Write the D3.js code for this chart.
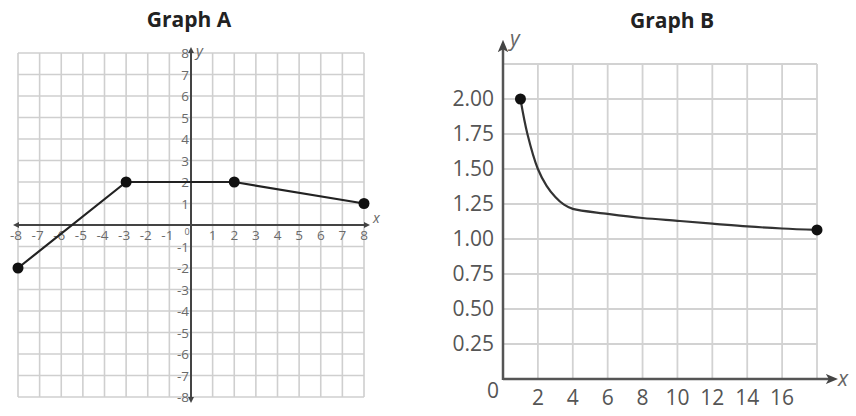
<!DOCTYPE html>
<html>
<head>
<meta charset="utf-8">
<script src="https://cdn.jsdelivr.net/npm/d3@7"></script>
<style>
  body { margin: 0; background: #fff; }
  svg { display: block; }
  .title { font-family: "Open Sans", sans-serif; font-weight: bold; font-size: 21px; fill: #222; }
  .tickA { font-family: "Open Sans", sans-serif; font-size: 13.5px; fill: #6a6a6a; }
  .tickB { font-family: "Open Sans", sans-serif; font-size: 21px; fill: #555; }
  .axlab { font-family: "Open Sans", sans-serif; font-style: italic; fill: #666; }
</style>
</head>
<body>
<div id="chart"></div>
<script>
// Graph A data
const pointsA = [[-8, -2], [-3, 2], [2, 2], [8, 1]];
const ticksAx = [-8, -7, -6, -5, -4, -3, -2, -1, 1, 2, 3, 4, 5, 6, 7, 8];
const ticksAy = [-8, -7, -6, -5, -4, -3, -2, -1, 1, 2, 3, 4, 5, 6, 7, 8];
const gridA = d3.range(-8, 9);

// Graph B data
const curveBx = [1, 1.4, 2, 2.5, 3, 3.5, 4, 6, 8, 10, 12, 14, 16, 18];
const curveBy = [2.0, 1.75, 1.5, 1.38, 1.3, 1.245, 1.215, 1.18, 1.15, 1.13, 1.11, 1.09, 1.075, 1.065];
const endsB = [[1, 2.0], [18, 1.065]];
const ticksBx = [2, 4, 6, 8, 10, 12, 14, 16];
const ticksBy = [0.25, 0.5, 0.75, 1.0, 1.25, 1.5, 1.75, 2.0];
const gridBx = d3.range(0, 19, 2);
const gridBy = [0, 0.25, 0.5, 0.75, 1.0, 1.25, 1.5, 1.75, 2.0, 2.25];

const svg = d3.select("#chart").append("svg")
  .attr("width", 856)
  .attr("height", 416);

const defs = svg.append("defs");
defs.append("marker")
  .attr("id", "arrA")
  .attr("viewBox", "0 0 10 10")
  .attr("refX", 5).attr("refY", 5)
  .attr("markerWidth", 3).attr("markerHeight", 3)
  .attr("markerUnits", "strokeWidth")
  .attr("orient", "auto-start-reverse")
  .append("path").attr("d", "M0,0 L10,5 L0,10 Z").attr("fill", "#444");
defs.append("marker")
  .attr("id", "arrB")
  .attr("viewBox", "0 0 12 10")
  .attr("refX", 6).attr("refY", 5)
  .attr("markerWidth", 5).attr("markerHeight", 4.5)
  .attr("markerUnits", "strokeWidth")
  .attr("orient", "auto")
  .append("path").attr("d", "M0,0 L12,5 L0,10 L3,5 Z").attr("fill", "#444");

// ---------- Graph A ----------
const xA = d3.scaleLinear().domain([-8, 8]).range([18, 364]);
const yA = d3.scaleLinear().domain([-8, 8]).range([397, 53]);
const gA = svg.append("g");

gA.append("text").attr("class", "title")
  .attr("x", 189).attr("y", 27)
  .attr("text-anchor", "middle")
  .text("Graph A");

gA.selectAll(".gvx").data(gridA).enter().append("line")
  .attr("x1", d => xA(d)).attr("x2", d => xA(d))
  .attr("y1", yA(8)).attr("y2", yA(-8))
  .attr("stroke", "#cfcfcf").attr("stroke-width", 1.6);
gA.selectAll(".gvy").data(gridA).enter().append("line")
  .attr("y1", d => yA(d)).attr("y2", d => yA(d))
  .attr("x1", xA(-8)).attr("x2", xA(8))
  .attr("stroke", "#cfcfcf").attr("stroke-width", 1.6);

// axes
gA.append("line")
  .attr("x1", xA(-8) - 2).attr("x2", xA(8) + 3)
  .attr("y1", yA(0)).attr("y2", yA(0))
  .attr("stroke", "#444").attr("stroke-width", 2)
  .attr("marker-start", "url(#arrA)")
  .attr("marker-end", "url(#arrA)");
gA.append("line")
  .attr("x1", xA(0)).attr("x2", xA(0))
  .attr("y1", yA(-8) + 3).attr("y2", yA(8) - 3)
  .attr("stroke", "#444").attr("stroke-width", 2)
  .attr("marker-start", "url(#arrA)")
  .attr("marker-end", "url(#arrA)");

gA.selectAll(".tx").data(ticksAx).enter().append("text")
  .attr("class", "tickA")
  .attr("x", d => xA(d) - (d < 0 ? 2 : 0))
  .attr("y", yA(0) + 15)
  .attr("text-anchor", "middle")
  .text(d => d < 0 ? "-" + Math.abs(d) : d);
gA.selectAll(".ty").data(ticksAy).enter().append("text")
  .attr("class", "tickA")
  .attr("x", xA(0) - 2)
  .attr("y", d => yA(d) + 5)
  .attr("text-anchor", "end")
  .text(d => d < 0 ? "-" + Math.abs(d) : d);
gA.append("text").attr("class", "tickA")
  .attr("x", xA(0) - 4).attr("y", yA(0) + 10)
  .attr("text-anchor", "middle")
  .style("font-size", "9px")
  .text("0");

gA.append("text").attr("class", "axlab")
  .attr("x", xA(8) + 9).attr("y", yA(0) - 2)
  .style("font-size", "14px").text("x");
gA.append("text").attr("class", "axlab")
  .attr("x", xA(0) + 5).attr("y", yA(8) + 3)
  .style("font-size", "15px").text("y");

const lineA = d3.line().x(d => xA(d[0])).y(d => yA(d[1]));
gA.append("path").datum(pointsA)
  .attr("fill", "none").attr("stroke", "#222").attr("stroke-width", 2.2)
  .attr("d", lineA);
gA.selectAll(".dot").data(pointsA).enter().append("circle")
  .attr("cx", d => xA(d[0])).attr("cy", d => yA(d[1]))
  .attr("r", 5.5).attr("fill", "#111");

// ---------- Graph B ----------
const xB = d3.scaleLinear().domain([0, 18]).range([503, 817]);
const yB = d3.scaleLinear().domain([0, 2.25]).range([379, 64]);
const gB = svg.append("g");

gB.append("text").attr("class", "title")
  .attr("x", 672).attr("y", 28)
  .attr("text-anchor", "middle")
  .text("Graph B");

gB.selectAll(".gvx").data(gridBx).enter().append("line")
  .attr("x1", d => xB(d)).attr("x2", d => xB(d))
  .attr("y1", yB(2.25)).attr("y2", yB(0))
  .attr("stroke", "#d2d2d2").attr("stroke-width", 1.8);
gB.selectAll(".gvy").data(gridBy).enter().append("line")
  .attr("y1", d => yB(d)).attr("y2", d => yB(d))
  .attr("x1", xB(0)).attr("x2", xB(18))
  .attr("stroke", "#d2d2d2").attr("stroke-width", 1.8);

gB.append("line")
  .attr("x1", xB(0)).attr("x2", 832)
  .attr("y1", yB(0)).attr("y2", yB(0))
  .attr("stroke", "#555").attr("stroke-width", 2.5)
  .attr("marker-end", "url(#arrB)");
gB.append("line")
  .attr("x1", xB(0)).attr("x2", xB(0))
  .attr("y1", yB(0) + 1).attr("y2", 46)
  .attr("stroke", "#555").attr("stroke-width", 2.5)
  .attr("marker-end", "url(#arrB)");

gB.selectAll(".tx").data(ticksBx).enter().append("text")
  .attr("class", "tickB")
  .attr("x", d => xB(d))
  .attr("y", yB(0) + 26)
  .attr("text-anchor", "middle")
  .text(d => d);
gB.selectAll(".ty").data(ticksBy).enter().append("text")
  .attr("class", "tickB")
  .attr("x", xB(0) - 9)
  .attr("y", d => yB(d) + 7)
  .attr("text-anchor", "end")
  .text(d => d3.format(".2f")(d));
gB.append("text").attr("class", "tickB")
  .attr("x", xB(0) - 10).attr("y", yB(0) + 19)
  .attr("text-anchor", "middle")
  .text("0");

gB.append("text").attr("class", "axlab")
  .attr("x", 838).attr("y", yB(0) + 7)
  .style("font-size", "21px").text("x");
gB.append("text").attr("class", "axlab")
  .attr("x", 510).attr("y", 46)
  .style("font-size", "21px").text("y");

const curveB = curveBx.map((x, i) => [x, curveBy[i]]);
const lineB = d3.line().x(d => xB(d[0])).y(d => yB(d[1])).curve(d3.curveCatmullRom.alpha(0.5));
gB.append("path").datum(curveB)
  .attr("fill", "none").attr("stroke", "#333").attr("stroke-width", 2.2)
  .attr("d", lineB);
gB.selectAll(".dot").data(endsB).enter().append("circle")
  .attr("cx", d => xB(d[0])).attr("cy", d => yB(d[1]))
  .attr("r", 5.5).attr("fill", "#111");
</script>
</body>
</html>
